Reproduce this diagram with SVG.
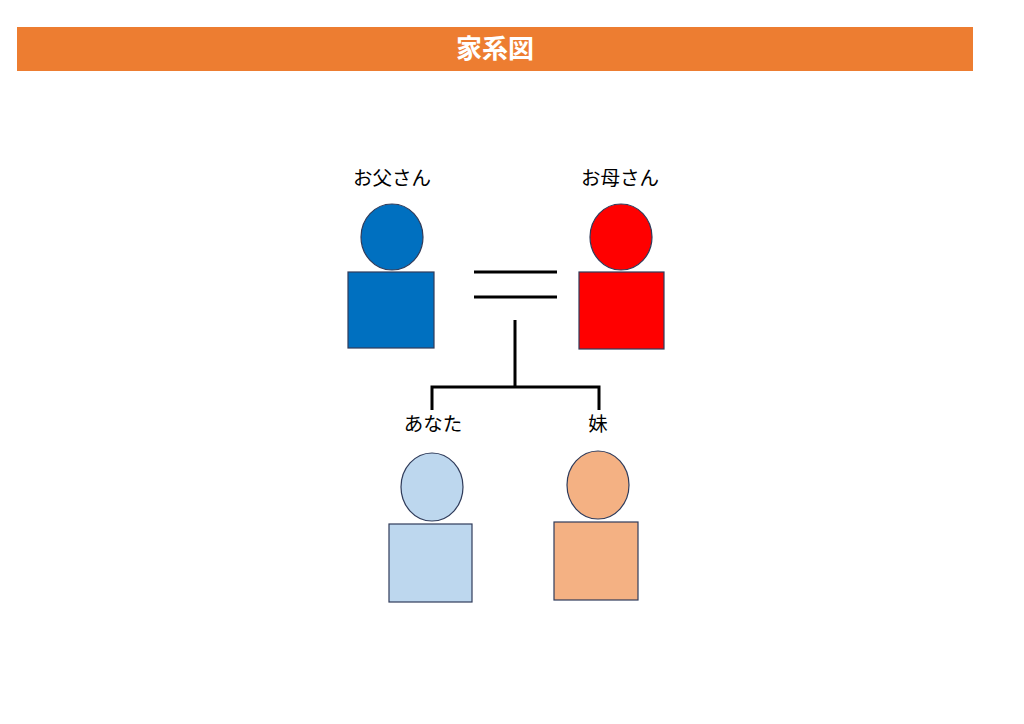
<svg xmlns="http://www.w3.org/2000/svg" width="1024" height="724" viewBox="0 0 1024 724">
<style>
.lbl{font-family:"Noto Sans CJK JP","Noto Sans",sans-serif;font-size:19.5px;text-anchor:middle;fill:#000}
.sh{stroke:#2F3B5A;stroke-width:1.2}
.ln{stroke:#000;stroke-width:3;fill:none}
</style>
<rect width="1024" height="724" fill="#fff"/>
<rect x="17" y="27" width="956" height="44" fill="#ED7D31"/>
<text x="495" y="58" font-family="Noto Sans CJK JP,sans-serif" font-size="26" font-weight="bold" fill="#fff" text-anchor="middle">家系図</text>
<g id="connectors">
<line class="ln" x1="474" y1="272" x2="557" y2="272"/>
<line class="ln" x1="474" y1="297" x2="557" y2="297"/>
<path class="ln" d="M515 320V387M432 410V387H599V410"/>
</g>
<g id="father">
<text class="lbl" x="392" y="185">お父さん</text>
<ellipse class="sh" cx="392" cy="237" rx="31" ry="33" fill="#0070C0"/>
<rect class="sh" x="348" y="272" width="86" height="76" fill="#0070C0"/>
</g>
<g id="mother">
<text class="lbl" x="620" y="185">お母さん</text>
<ellipse class="sh" cx="621" cy="237" rx="31" ry="33" fill="#FF0000"/>
<rect class="sh" x="579" y="272" width="85" height="77" fill="#FF0000"/>
</g>
<g id="you">
<text class="lbl" x="433" y="431">あなた</text>
<ellipse class="sh" cx="432" cy="487" rx="31" ry="34" fill="#BDD7EE"/>
<rect class="sh" x="389" y="524" width="83" height="78" fill="#BDD7EE"/>
</g>
<g id="sister">
<text class="lbl" x="598" y="431">妹</text>
<ellipse class="sh" cx="598" cy="485" rx="31" ry="34" fill="#F4B183"/>
<rect class="sh" x="554" y="522" width="84" height="78" fill="#F4B183"/>
</g>
</svg>
